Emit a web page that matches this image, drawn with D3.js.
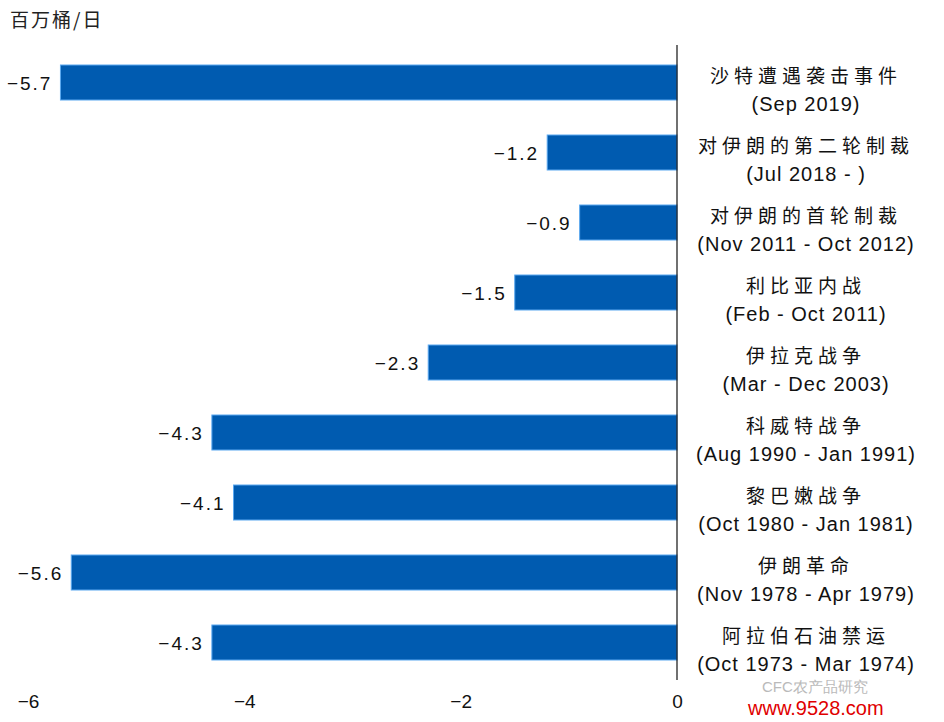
<!DOCTYPE html>
<html><head><meta charset="utf-8">
<script src="https://cdn.jsdelivr.net/npm/d3@7"></script>
<style>body{margin:0;background:#fff;}svg{display:block;}</style>
</head><body><svg id="c" width="944" height="722"></svg>
<script>
const events = ["沙特遭遇袭击事件","对伊朗的第二轮制裁","对伊朗的首轮制裁","利比亚内战","伊拉克战争","科威特战争","黎巴嫩战争","伊朗革命","阿拉伯石油禁运"];
const periods = ["(Sep 2019)","(Jul 2018 - )","(Nov 2011 - Oct 2012)","(Feb - Oct 2011)","(Mar - Dec 2003)","(Aug 1990 - Jan 1991)","(Oct 1980 - Jan 1981)","(Nov 1978 - Apr 1979)","(Oct 1973 - Mar 1974)"];
const values = [-5.7,-1.2,-0.9,-1.5,-2.3,-4.3,-4.1,-5.6,-4.3];
const xTicks = [-6,-4,-2,0];
const unit = "百万桶/日";

const svg = d3.select("#c");
const cjk = "'Noto Sans CJK SC', sans-serif";
const x = d3.scaleLinear().domain([-6,0]).range([28,677]);
const y = d3.scaleBand().domain(d3.range(events.length)).range([47.5,677.5]).paddingInner(0.5).paddingOuter(0.25);

svg.append("text").attr("x",10).attr("y",27).attr("font-family",cjk).attr("font-size",19).attr("letter-spacing",2).attr("fill","#222").text(unit);

svg.selectAll("rect.bar").data(values).join("rect").attr("class","bar")
  .attr("x",d=>x(d)).attr("y",(d,i)=>y(i)).attr("width",d=>x(0)-x(d)).attr("height",y.bandwidth())
  .attr("fill","#005bb0").attr("stroke","#5aa8f0").attr("stroke-width",1);

svg.selectAll("text.val").data(values).join("text").attr("class","val")
  .attr("x",d=>x(d)-8).attr("y",(d,i)=>y(i)+y.bandwidth()/2+7).attr("text-anchor","end")
  .attr("font-family","'Liberation Sans', sans-serif").attr("font-size",19).attr("letter-spacing",2).attr("fill","#111")
  .text(d=>d3.format(".1f")(d).replace("-","−"));

svg.append("line").attr("x1",x(0)).attr("x2",x(0)).attr("y1",45).attr("y2",680).attr("stroke","#111").attr("stroke-width",1.2);

const lab = svg.selectAll("g.lab").data(events).join("g").attr("class","lab");
lab.append("text").attr("x",806).attr("y",(d,i)=>y(i)+y.bandwidth()/2).attr("text-anchor","middle")
  .attr("font-family",cjk).attr("font-size",19).attr("letter-spacing",5).attr("fill","#111").text(d=>d);
lab.append("text").attr("x",806).attr("y",(d,i)=>y(i)+y.bandwidth()/2+28).attr("text-anchor","middle")
  .attr("font-family","'Liberation Sans', sans-serif").attr("font-size",20).attr("letter-spacing",1).attr("fill","#111").text((d,i)=>periods[i]);

const ax = svg.append("g").attr("transform","translate(0,688)")
  .call(d3.axisBottom(x).tickValues(xTicks).tickSize(0).tickFormat(d=>d<0?"−"+Math.abs(d):d));
ax.select(".domain").remove();
ax.selectAll("text").attr("font-family","'Liberation Sans', sans-serif").attr("font-size",19).attr("fill","#111").attr("dy","0.9em");

svg.append("text").attr("x",762).attr("y",692).attr("font-family","'Liberation Sans', sans-serif").attr("font-size",15).attr("fill","#aaa").attr("opacity",0.8).text("CFC农产品研究");
svg.append("text").attr("x",748).attr("y",715).attr("font-family","'Liberation Sans', sans-serif").attr("font-size",20).attr("fill","#e00000").text("www.9528.com");
</script></body></html>
